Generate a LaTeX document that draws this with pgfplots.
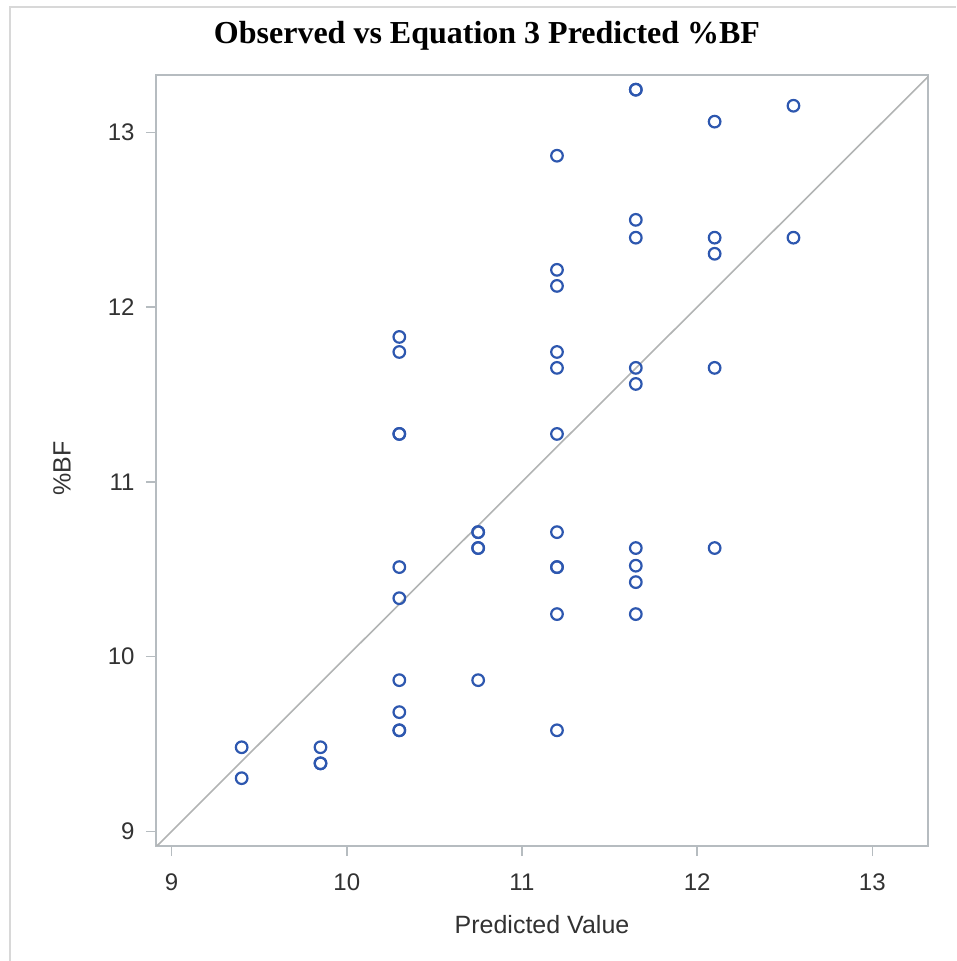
\documentclass[border=0pt]{standalone}
\usepackage{pgfplots}
\pgfplotsset{compat=1.18}
\usepackage{fontspec}
\setmainfont{Liberation Serif}
\newfontfamily\arial{Liberation Sans}
\definecolor{framegray}{RGB}{182,188,192}
\definecolor{diaggray}{RGB}{178,180,180}
\definecolor{outergray}{RGB}{216,216,216}
\definecolor{markblue}{RGB}{45,87,175}
\definecolor{txtgray}{RGB}{50,50,50}
\begin{document}
\begin{tikzpicture}[x=1pt,y=1pt]
\useasboundingbox (0,0) rectangle (956,961);
\draw[outergray,line width=2pt] (10,0) -- (10,954) -- (956,954);
\node[font=\fontsize{32}{38}\selectfont\bfseries,anchor=center] at (487,925) {Observed vs Equation 3 Predicted \%BF};
\begin{axis}[
  at={(156pt,115pt)}, anchor=south west,
  width=772pt, height=771pt, scale only axis,
  xmin=8.911, xmax=13.318, ymin=8.916, ymax=13.328,
  xtick={9,10,11,12,13}, ytick={9,10,11,12,13},
  tick align=outside, major tick length=10pt,
  xtick pos=bottom, ytick pos=left,
  axis line style={framegray,line width=2pt},
  every tick/.style={framegray,line width=1.5pt},
  /pgf/number format/assume math mode=true,
  tick label style={font=\arial\fontsize{24}{28}\selectfont,text=txtgray},
  xticklabel style={yshift=-14pt},
  yticklabel style={xshift=-8pt},
  xlabel={Predicted Value}, ylabel={\%BF},
  label style={font=\arial\fontsize{25}{30}\selectfont,text=txtgray},
  xlabel style={at={(axis description cs:0.5,0)},anchor=center,yshift=-79pt},
  ylabel style={at={(axis description cs:-0.1218,0.49)},anchor=center},
  clip=true,
]
\addplot[diaggray,line width=1.6pt] coordinates {(8.9,8.9) (13.4,13.4)};
\addplot[only marks,mark=o,mark size=5.8pt,mark options={draw=markblue,line width=2.2pt}] table {
x y
9.40 9.481
9.40 9.304
9.85 9.481
9.85 9.389
9.85 9.389
10.30 11.829
10.30 11.743
10.30 11.274
10.30 11.274
10.30 10.512
10.30 10.334
10.30 9.865
10.30 9.682
10.30 9.578
10.30 9.578
10.75 10.712
10.75 10.712
10.75 10.621
10.75 10.621
10.75 9.865
11.20 12.866
11.20 12.213
11.20 12.121
11.20 11.743
11.20 11.652
11.20 11.274
11.20 10.712
11.20 10.512
11.20 10.512
11.20 10.243
11.20 9.578
11.65 13.244
11.65 13.244
11.65 12.499
11.65 12.397
11.65 11.652
11.65 11.560
11.65 10.621
11.65 10.520
11.65 10.426
11.65 10.243
12.10 13.061
12.10 12.397
12.10 12.305
12.10 11.652
12.10 10.621
12.55 13.152
12.55 12.397
};
\end{axis}
\end{tikzpicture}
\end{document}
